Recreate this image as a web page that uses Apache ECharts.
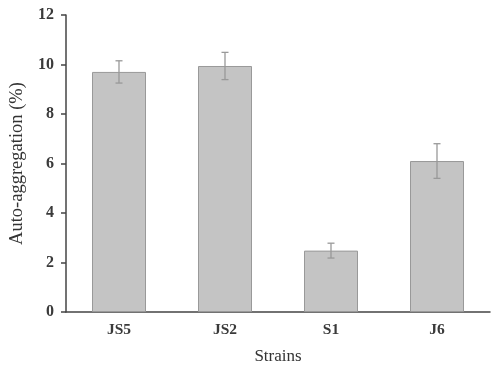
<!DOCTYPE html>
<html><head><meta charset="utf-8">
<script src="https://cdn.jsdelivr.net/npm/echarts@6/dist/echarts.min.js"></script>
<style>html,body{margin:0;padding:0;background:#fff}#c{width:500px;height:374px}</style>
</head><body><div id="c"></div>
<script>
var categories = ['JS5', 'JS2', 'S1', 'J6'];
var values = [9.70, 9.94, 2.48, 6.10];
var errors = [0.45, 0.55, 0.30, 0.70];
var yTicks = [0, 2, 4, 6, 8, 10, 12];

var font = '"Liberation Serif", "Times New Roman", serif';
var chart = echarts.init(document.getElementById('c'));
chart.setOption({
  backgroundColor: '#fff',
  animation: false,
  grid: {left: 66, right: 10, top: 15, bottom: 62},
  xAxis: {
    type: 'category', data: categories,
    name: 'Strains', nameLocation: 'middle', nameGap: 36,
    nameTextStyle: {fontFamily: font, fontSize: 17, color: '#333'},
    axisLine: {lineStyle: {color: '#444', width: 1.5}},
    axisTick: {alignWithLabel: true, length: 4, lineStyle: {color: '#444', width: 1.5}},
    axisLabel: {fontFamily: font, fontSize: 15.5, fontWeight: 'bold', color: '#3a3a3a', margin: 10}
  },
  yAxis: {
    type: 'value', min: 0, max: 12, interval: 2,
    name: 'Auto-aggregation (%)', nameLocation: 'middle', nameGap: 34,
    nameTextStyle: {fontFamily: font, fontSize: 18.5, color: '#333'},
    axisLine: {show: true, lineStyle: {color: '#444', width: 1.5}},
    axisTick: {show: true, length: 5, lineStyle: {color: '#444', width: 1.5}},
    axisLabel: {fontFamily: font, fontSize: 16, fontWeight: 'bold', color: '#3a3a3a', margin: 12,
      formatter: function (v) { return yTicks.indexOf(v) >= 0 ? String(v) : ''; }},
    splitLine: {show: false}
  },
  series: [{
    type: 'bar', data: values, barWidth: 54,
    itemStyle: {color: '#c4c4c4', borderColor: '#999', borderWidth: 1}
  }, {
    type: 'custom',
    data: categories.map(function (c, i) { return [i, values[i] - errors[i], values[i] + errors[i]]; }),
    renderItem: function (params, api) {
      var lo = api.coord([api.value(0), api.value(1)]);
      var hi = api.coord([api.value(0), api.value(2)]);
      var w = 3.5;
      var st = {stroke: '#999', lineWidth: 1.3};
      return {type: 'group', children: [
        {type: 'line', shape: {x1: hi[0], y1: hi[1], x2: lo[0], y2: lo[1]}, style: st},
        {type: 'line', shape: {x1: hi[0] - w, y1: hi[1], x2: hi[0] + w, y2: hi[1]}, style: st},
        {type: 'line', shape: {x1: lo[0] - w, y1: lo[1], x2: lo[0] + w, y2: lo[1]}, style: st}
      ]};
    },
    z: 10
  }]
});
</script></body></html>
